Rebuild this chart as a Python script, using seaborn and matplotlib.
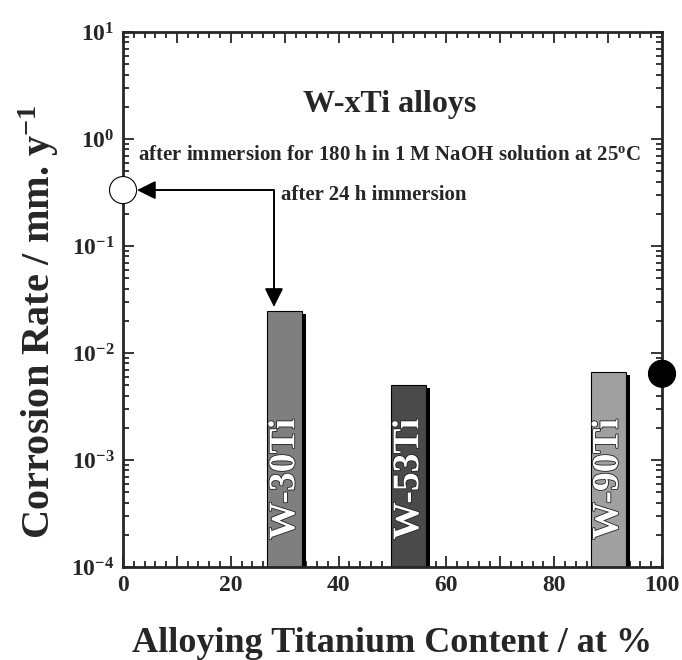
import numpy as np
import pandas as pd
import matplotlib
matplotlib.use('Agg')
import matplotlib.pyplot as plt
import matplotlib.ticker as mticker
import matplotlib.patheffects as pe
import seaborn as sns

# Data
alloys = ['W-30Ti', 'W-53Ti', 'W-90Ti']
ti_content = [30, 53, 90]
rate_180h = [0.0247, 0.0050, 0.0066]
bar_colors = ['#7f7f7f', '#4a4a4a', '#a0a0a0']

pure_x = [0, 100]             # pure W (24 h) and pure Ti
pure_rate = [0.333, 0.0064]
pure_face = ['white', 'black']

sns.set_style('ticks')
plt.rcParams['font.family'] = ['Liberation Serif', 'DejaVu Serif']
plt.rcParams['font.weight'] = 'bold'
plt.rcParams['mathtext.fontset'] = 'custom'
plt.rcParams['mathtext.rm'] = 'Liberation Serif:bold'
plt.rcParams['mathtext.bf'] = 'Liberation Serif:bold'
plt.rcParams['mathtext.it'] = 'Liberation Serif:bold'
plt.rcParams['mathtext.default'] = 'bf'

df = pd.DataFrame({'alloy': alloys, 'ti': ti_content, 'rate': rate_180h})

fig = plt.figure(figsize=(6.82, 6.60), dpi=100)
ax = fig.add_axes([0.1804, 0.1409, 0.7903, 0.8106])
ax.set_yscale('log')

sns.barplot(data=df, x='ti', y='rate', hue='alloy', palette=bar_colors,
            native_scale=True, dodge=False, width=0.283, legend=False,
            edgecolor='black', linewidth=0.8, ax=ax,
            path_effects=[pe.SimplePatchShadow(offset=(3, -2), shadow_rgbFace='black', alpha=1.0), pe.Normal()])

# bar labels
for x, lab in zip(ti_content, alloys):
    ax.text(x, 1.8e-4, lab, rotation=90, ha='center', va='bottom', color='white',
            fontsize=27, fontweight='bold',
            path_effects=[pe.withStroke(linewidth=1.2, foreground='#222222')])

# end-point markers
sns.scatterplot(x=pure_x, y=pure_rate, hue=['a', 'b'], palette=pure_face, s=380,
                edgecolor='black', linewidth=0.8, legend=False, clip_on=False,
                zorder=5, ax=ax)

ax.annotate('', xy=(2.6, pure_rate[0]), xytext=(28, 0.027),
            arrowprops=dict(arrowstyle='<|-|>', color='black', lw=1.4,
                            mutation_scale=28, shrinkA=0, shrinkB=0,
                            connectionstyle='angle,angleA=90,angleB=0,rad=0'))
ax.text(29.3, 0.30, 'after 24 h immersion', fontsize=15, fontweight='bold', va='center')

ax.text(0.495, 0.865, 'W-xTi alloys', transform=ax.transAxes, ha='center', va='center',
        fontsize=23, fontweight='bold')
ax.text(0.495, 0.770, r'after immersion for 180 h in 1 M NaOH solution at 25$^{o}$C',
        transform=ax.transAxes, ha='center', va='center', fontsize=15, fontweight='bold')

ax.set_xlim(0, 100)
ax.set_ylim(1e-4, 10)
ax.xaxis.set_major_locator(mticker.MultipleLocator(10))
ax.xaxis.set_minor_locator(mticker.MultipleLocator(2))
ax.xaxis.set_major_formatter(mticker.FuncFormatter(lambda v, p: f'{int(v)}' if int(round(v)) % 20 == 0 else ''))
ax.yaxis.set_major_locator(mticker.LogLocator(base=10, numticks=10))
ax.yaxis.set_minor_locator(mticker.LogLocator(base=10, subs=np.arange(2, 10), numticks=20))
ax.yaxis.set_minor_formatter(mticker.NullFormatter())
ax.yaxis.set_major_formatter(mticker.FuncFormatter(lambda v, p: r'10$^{%d}$' % int(round(np.log10(v)))))

ax.tick_params(which='both', direction='in', top=True, right=True, width=1.3)
ax.tick_params(which='major', length=8, labelsize=17, pad=6)
ax.tick_params(which='minor', length=4)
for s in ax.spines.values():
    s.set_linewidth(2)

ax.set_xlabel('Alloying Titanium Content / at %', fontsize=26, fontweight='bold', labelpad=22)
ax.set_ylabel(r'Corrosion Rate / mm. y$^{-1}$', fontsize=29, fontweight='bold')
ax.yaxis.set_label_coords(-0.116, 0.458)

fig.savefig('out.png', dpi=100)
